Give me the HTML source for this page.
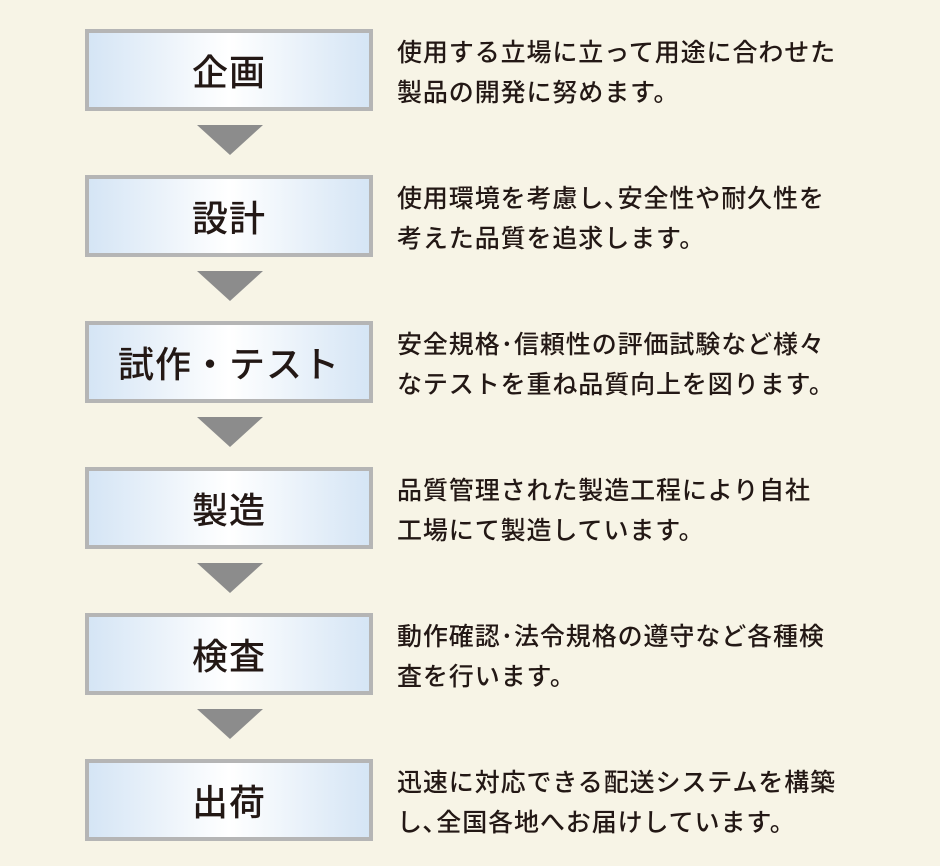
<!DOCTYPE html>
<html><head><meta charset="utf-8"><style>
body{margin:0;width:940px;height:866px;background:#f7f4e6;position:relative;overflow:hidden;font-family:"Liberation Sans","Noto Sans CJK JP",sans-serif;color:#231815}
.box{position:absolute;left:85px;width:280px;height:74px;border:4px solid #b5b5b5;background:linear-gradient(to right,#d5e5f5 0%,#ffffff 50%,#d5e5f5 100%);display:flex;align-items:center;justify-content:center;font-size:36px;letter-spacing:1px;font-weight:500}
.tri{position:absolute;left:197px;width:0;height:0;border-left:33px solid transparent;border-right:33px solid transparent;border-top:30px solid #8c8c8c}
.txt{position:absolute;left:397px;font-size:25px;line-height:40px;white-space:nowrap;letter-spacing:0.9px;font-weight:500}
</style></head><body>
<div class="box" style="top:29px">企画</div>
<div class="tri" style="top:125px"></div>
<div class="txt" style="top:33px">使用する立場に立って用途に合わせた<br>製品の開発に努めます。</div>

<div class="box" style="top:175px">設計</div>
<div class="tri" style="top:271px"></div>
<div class="txt" style="top:179px">使用環境を考慮し､安全性や耐久性を<br>考えた品質を追求します。</div>

<div class="box" style="top:321px">試作・テスト</div>
<div class="tri" style="top:417px"></div>
<div class="txt" style="top:325px">安全規格･信頼性の評価試験など様々<br>なテストを重ね品質向上を図ります。</div>

<div class="box" style="top:467px">製造</div>
<div class="tri" style="top:563px"></div>
<div class="txt" style="top:471px">品質管理された製造工程により自社<br>工場にて製造しています。</div>

<div class="box" style="top:613px">検査</div>
<div class="tri" style="top:709px"></div>
<div class="txt" style="top:617px">動作確認･法令規格の遵守など各種検<br>査を行います。</div>

<div class="box" style="top:759px">出荷</div>
<div class="txt" style="top:763px">迅速に対応できる配送システムを構築<br>し､全国各地へお届けしています。</div>
</body></html>
